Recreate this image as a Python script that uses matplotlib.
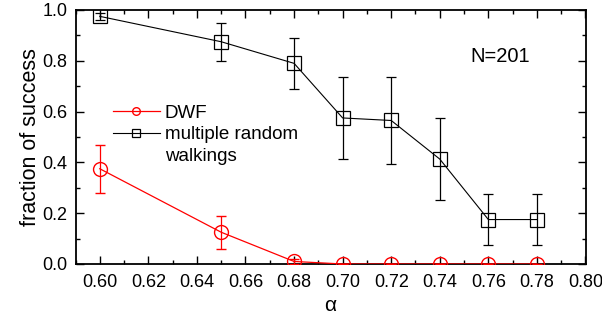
import numpy as np
import matplotlib
matplotlib.use("Agg")
from matplotlib import pyplot as plt
from matplotlib.lines import Line2D
from matplotlib.ticker import MultipleLocator, FormatStrFormatter

plt.rcParams['font.family'] = ['Liberation Sans', 'DejaVu Sans']

# data
alpha = [0.60, 0.65, 0.68, 0.70, 0.72, 0.74, 0.76, 0.78]
dwf = [0.375, 0.125, 0.01, 0.0, 0.0, 0.0, 0.0, 0.0]
dwf_err = [0.095, 0.065, 0.01, 0.0, 0.0, 0.0, 0.0, 0.0]
mrw = [0.975, 0.875, 0.79, 0.575, 0.565, 0.413, 0.175, 0.175]
mrw_err = [0.015, 0.075, 0.10, 0.16, 0.17, 0.16, 0.10, 0.10]

fig = plt.figure(figsize=(6.02, 3.23), dpi=100)
ax = fig.add_axes([75.5 / 602, 1 - 264 / 323, 510 / 602, 254 / 323])

l1 = ax.errorbar(alpha, dwf, yerr=dwf_err, color='red', marker='o', ms=10,
                 mfc='none', mew=1.0, lw=0.9, elinewidth=0.9, capsize=3.5,
                 capthick=0.9, zorder=3)
l2 = ax.errorbar(alpha, mrw, yerr=mrw_err, color='black', marker='s', ms=9.5,
                 mfc='none', mew=0.9, lw=0.8, elinewidth=0.9, capsize=3.5,
                 capthick=0.9, zorder=3)
for ln in (l1.lines[0], l2.lines[0]):
    ln.set_clip_on(True)

ax.set_xlim(0.59, 0.80)
ax.set_ylim(0.0, 1.0)
ax.xaxis.set_major_locator(MultipleLocator(0.02))
ax.xaxis.set_minor_locator(MultipleLocator(0.01))
ax.yaxis.set_major_locator(MultipleLocator(0.2))
ax.yaxis.set_minor_locator(MultipleLocator(0.1))
ax.xaxis.set_major_formatter(FormatStrFormatter('%.2f'))
ax.yaxis.set_major_formatter(FormatStrFormatter('%.1f'))
ax.tick_params(which='both', direction='in', top=True, right=True,
               labelsize=13, width=1.0)
ax.tick_params(which='major', length=5.5)
ax.tick_params(axis='x', which='major', pad=7)
ax.tick_params(axis='y', which='major', pad=6)
ax.tick_params(which='minor', length=3)
for s in ax.spines.values():
    s.set_linewidth(1.3)

ax.set_xlabel('α', fontsize=15, labelpad=4)
ax.set_ylabel('fraction of success', fontsize=15.5, labelpad=1)
ax.text(0.765, 0.815, 'N=201', fontsize=14.5, ha='center', va='center')

blank = Line2D([], [], linestyle='none', marker='none')
ax.legend([l1.lines[0], l2.lines[0], blank],
          ['DWF', 'multiple random', 'walkings'],
          loc='upper left', bbox_to_anchor=(0.0735, 0.628), frameon=False,
          fontsize=13.5, handlelength=2.5, handletextpad=0.25,
          labelspacing=0.24, borderaxespad=0, borderpad=0, markerscale=0.55)

fig.savefig('out.png', dpi=100)
